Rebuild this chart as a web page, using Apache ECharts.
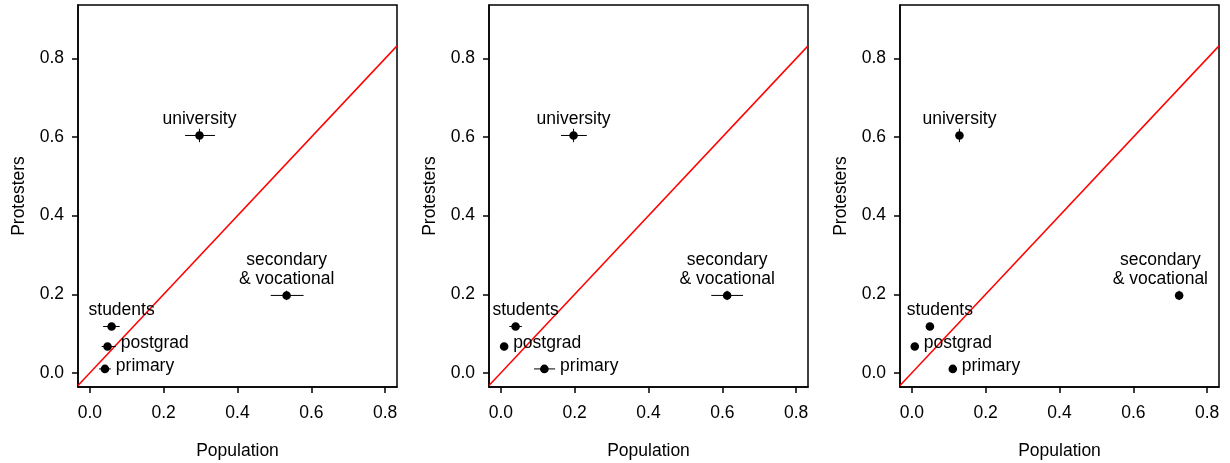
<!DOCTYPE html>
<html>
<head>
<meta charset="utf-8">
<script src="https://cdn.jsdelivr.net/npm/echarts@6/dist/echarts.min.js"></script>
<style>
html,body{margin:0;padding:0;background:#fff;}
#chart{width:1230px;height:463px;}
</style>
</head>
<body>
<div id="chart"></div>
<script>
// ---- data ----
const categories = ['university', 'secondary\n& vocational', 'students', 'postgrad', 'primary'];
const protesters   = [0.604, 0.197, 0.118, 0.067, 0.010];
const protestersLo = [0.587, 0.185, 0.110, 0.059, 0.004];
const protestersHi = [0.621, 0.209, 0.126, 0.075, 0.016];

const population1   = [0.297, 0.533, 0.059, 0.048, 0.041];
const population1Lo = [0.258, 0.490, 0.036, 0.032, 0.025];
const population1Hi = [0.339, 0.579, 0.081, 0.070, 0.057];

const population2   = [0.197, 0.613, 0.040, 0.009, 0.118];
const population2Lo = [0.163, 0.570, 0.023, 0.002, 0.090];
const population2Hi = [0.233, 0.656, 0.057, 0.016, 0.147];

const population3   = [0.129, 0.724, 0.049, 0.008, 0.111];
const population3Lo = [0.123, 0.718, 0.044, 0.003, 0.105];
const population3Hi = [0.135, 0.730, 0.054, 0.013, 0.117];

const xTicks = [0, 0.2, 0.4, 0.6, 0.8];
const yTicks = [0, 0.2, 0.4, 0.6, 0.8];
const xLimits = [-0.032, 0.832];
const yLimits = [-0.036, 0.936];

// label placement style: 'above' (centered over point) or 'right' (after error bar)
const labelPlacement = ['above', 'above', 'above', 'right', 'right'];

// ---- chart ----
const FONT = '"Liberation Sans", Arial, Helvetica, sans-serif';
const FS = 17.5;
const chart = echarts.init(document.getElementById('chart'), null, {renderer: 'canvas'});

const measureCanvas = document.createElement('canvas').getContext('2d');
measureCanvas.font = FS + 'px ' + FONT;
function textWidth(s) {
  return Math.max.apply(null, s.split('\n').map(l => measureCanvas.measureText(l).width));
}

const panels = [
  [population1, population1Lo, population1Hi],
  [population2, population2Lo, population2Hi],
  [population3, population3Lo, population3Hi]
];
const gridLefts = [78, 489, 900];
const gridWidth = 319;

const grids = [], xAxes = [], yAxes = [], series = [];
panels.forEach((p, gi) => {
  grids.push({left: gridLefts[gi], top: 5, width: gridWidth, height: 382, show: true,
    borderColor: '#000', borderWidth: 1.5, backgroundColor: 'transparent',
    containLabel: false, outerBoundsMode: 'none'});
  xAxes.push({type: 'value', gridIndex: gi, min: xLimits[0], max: xLimits[1],
    name: 'Population', nameLocation: 'middle', nameGap: 55,
    nameTextStyle: {fontFamily: FONT, fontSize: FS, color: '#000'},
    axisLine: {show: true, onZero: false, lineStyle: {color: '#000', width: 1.5}},
    axisTick: {show: true, length: 6, customValues: xTicks, lineStyle: {color: '#000', width: 1.5}},
    axisLabel: {show: true, customValues: xTicks, margin: 17, fontFamily: FONT, fontSize: FS, color: '#000',
      formatter: v => v.toFixed(1)},
    splitLine: {show: false}});
  yAxes.push({type: 'value', gridIndex: gi, min: yLimits[0], max: yLimits[1],
    name: 'Protesters', nameLocation: 'middle', nameGap: 50, nameRotate: 90,
    nameTextStyle: {fontFamily: FONT, fontSize: FS, color: '#000'},
    axisLine: {show: true, onZero: false, lineStyle: {color: '#000', width: 1.5}},
    axisTick: {show: true, length: 6, customValues: yTicks, lineStyle: {color: '#000', width: 1.5}},
    axisLabel: {show: true, customValues: yTicks, margin: 14, fontFamily: FONT, fontSize: FS, color: '#000',
      formatter: v => v.toFixed(1)},
    splitLine: {show: false}});

  // identity reference line y = x across the axis range
  series.push({type: 'line', xAxisIndex: gi, yAxisIndex: gi, silent: true, symbol: 'none',
    data: [[xLimits[0], xLimits[0]], [xLimits[1], xLimits[1]]],
    lineStyle: {color: '#ff0000', width: 1.5}, z: 2});

  const gridRight = gridLefts[gi] + gridWidth;
  const [x, xLo, xHi] = p;
  const data = categories.map((c, i) => [x[i], protesters[i], xLo[i], xHi[i], protestersLo[i], protestersHi[i]]);
  series.push({type: 'custom', xAxisIndex: gi, yAxisIndex: gi, clip: false, z: 3,
    data: data,
    encode: {x: 0, y: 1},
    renderItem: function (params, api) {
      const i = params.dataIndex;
      const c = api.coord([api.value(0), api.value(1)]);
      const l = api.coord([api.value(2), api.value(1)]);
      const r = api.coord([api.value(3), api.value(1)]);
      const b = api.coord([api.value(0), api.value(4)]);
      const t = api.coord([api.value(0), api.value(5)]);
      const ls = {stroke: '#000', lineWidth: 1};
      const children = [
        {type: 'line', shape: {x1: l[0], y1: l[1], x2: r[0], y2: r[1]}, style: ls},
        {type: 'line', shape: {x1: t[0], y1: t[1], x2: b[0], y2: b[1]}, style: ls},
        {type: 'circle', shape: {cx: c[0], cy: c[1], r: 4.3}, style: {fill: '#000'}}
      ];
      const label = categories[i];
      let tx, ty, align, valign;
      if (labelPlacement[i] === 'above') {
        tx = c[0] + (label === 'students' ? 10 : 0);
        const half = textWidth(label) / 2;
        if (tx + half > gridRight - 11) tx = gridRight - 11 - half;
        ty = c[1] - 7;
        align = 'center'; valign = 'bottom';
      } else {
        tx = Math.max(r[0], c[0] + 4) + 5;
        ty = c[1] - 3;
        align = 'left'; valign = 'middle';
      }
      children.push({type: 'text', style: {text: label, x: tx, y: ty, textAlign: align,
        textVerticalAlign: valign, fontFamily: FONT, fontSize: FS, fill: '#000', lineHeight: 19}});
      return {type: 'group', children: children};
    }});
});

chart.setOption({
  animation: false,
  backgroundColor: '#fff',
  grid: grids, xAxis: xAxes, yAxis: yAxes, series: series
});
</script>
</body>
</html>
